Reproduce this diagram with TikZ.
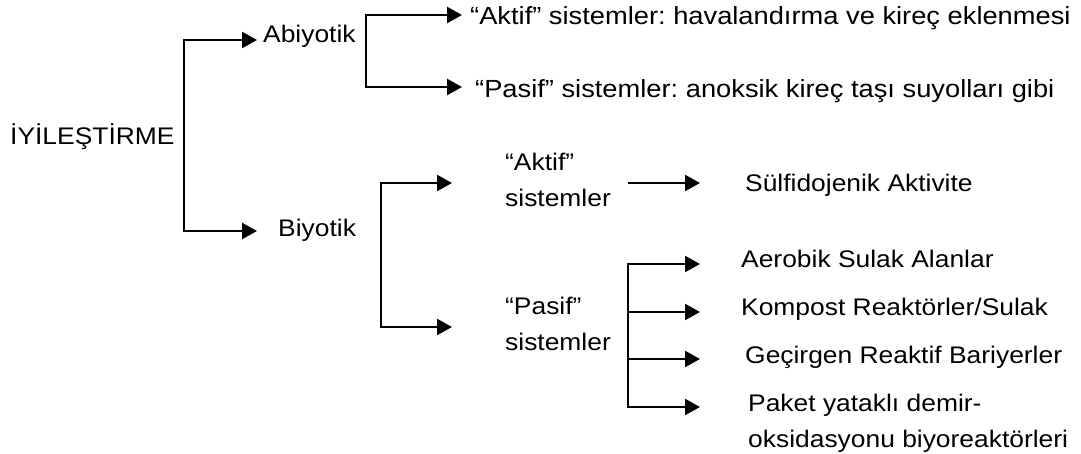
\documentclass[tikz,border=0pt]{standalone}
\usepackage{fontspec}
\setmainfont{Liberation Sans}[FakeStretch=1.1]
\usetikzlibrary{arrows.meta}
\frenchspacing
\begin{document}
\begin{tikzpicture}[x=1pt,y=-1pt,
  txt/.style={anchor=base west,inner sep=0pt,font=\fontsize{24}{36}\selectfont,align=left},
  big/.style={font=\fontsize{24.8}{36}\selectfont},
  line/.style={line width=2.4pt,line join=miter},
  tipR/.style={-{Triangle[length=15pt,width=16pt]}},
  tipB/.style={{Triangle[length=15pt,width=16pt]}-{Triangle[length=15pt,width=16pt]}}]
\useasboundingbox[fill=white] (0,0) rectangle (1081,454);
% nodes
\node[txt] (root) at (10,145) {İYİLEŞTİRME};
\node[txt] (abi) at (263,43) {Abiyotik};
\node[txt] (bio) at (278,237) {Biyotik};
\node[txt,big] (a1) at (470,25) {“Aktif” sistemler: havalandırma ve kireç eklenmesi};
\node[txt,big] (a2) at (475,98) {“Pasif” sistemler: anoksik kireç taşı suyolları gibi};
\node[txt] (bakt) at (505,207) {“Aktif”\\sistemler};
\node[txt] (bpas) at (505,350) {“Pasif”\\sistemler};
\node[txt] (sulf) at (745,192) {Sülfidojenik Aktivite};
\node[txt] (p1) at (741,268) {Aerobik Sulak Alanlar};
\node[txt] (p2) at (741,316) {Kompost Reaktörler/Sulak};
\node[txt] (p3) at (745,363) {Geçirgen Reaktif Bariyerler};
\node[txt] (p4) at (748,447) {Paket yataklı demir-\\oksidasyonu biyoreaktörleri};
% junction coordinates
\coordinate (j1a) at (184,40);  \coordinate (j1b) at (184,231);
\coordinate (j2a) at (366,15);  \coordinate (j2b) at (366,87);
\coordinate (j3a) at (381,183); \coordinate (j3b) at (381,327);
\coordinate (k1) at (628,183);
\coordinate (j4a) at (628,264); \coordinate (j4b) at (628,312);
\coordinate (j4c) at (628,359); \coordinate (j4d) at (628,407);
\coordinate (t1) at (257,0); \coordinate (t2) at (462,0);
\coordinate (t3) at (452,0); \coordinate (t4) at (700,0);
% connectors
\draw[line,tipB] (j1a -| t1) -- (j1a) -- (j1b) -- (j1b -| t1);
\draw[line,tipB] (j2a -| t2) -- (j2a) -- (j2b) -- (j2b -| t2);
\draw[line,tipB] (j3a -| t3) -- (j3a) -- (j3b) -- (j3b -| t3);
\draw[line,tipR] (k1) -- (k1 -| t4);
\draw[line,tipB] (j4a -| t4) -- (j4a) -- (j4d) -- (j4d -| t4);
\draw[line,tipR] (j4b) -- (j4b -| t4);
\draw[line,tipR] (j4c) -- (j4c -| t4);
\end{tikzpicture}
\end{document}
